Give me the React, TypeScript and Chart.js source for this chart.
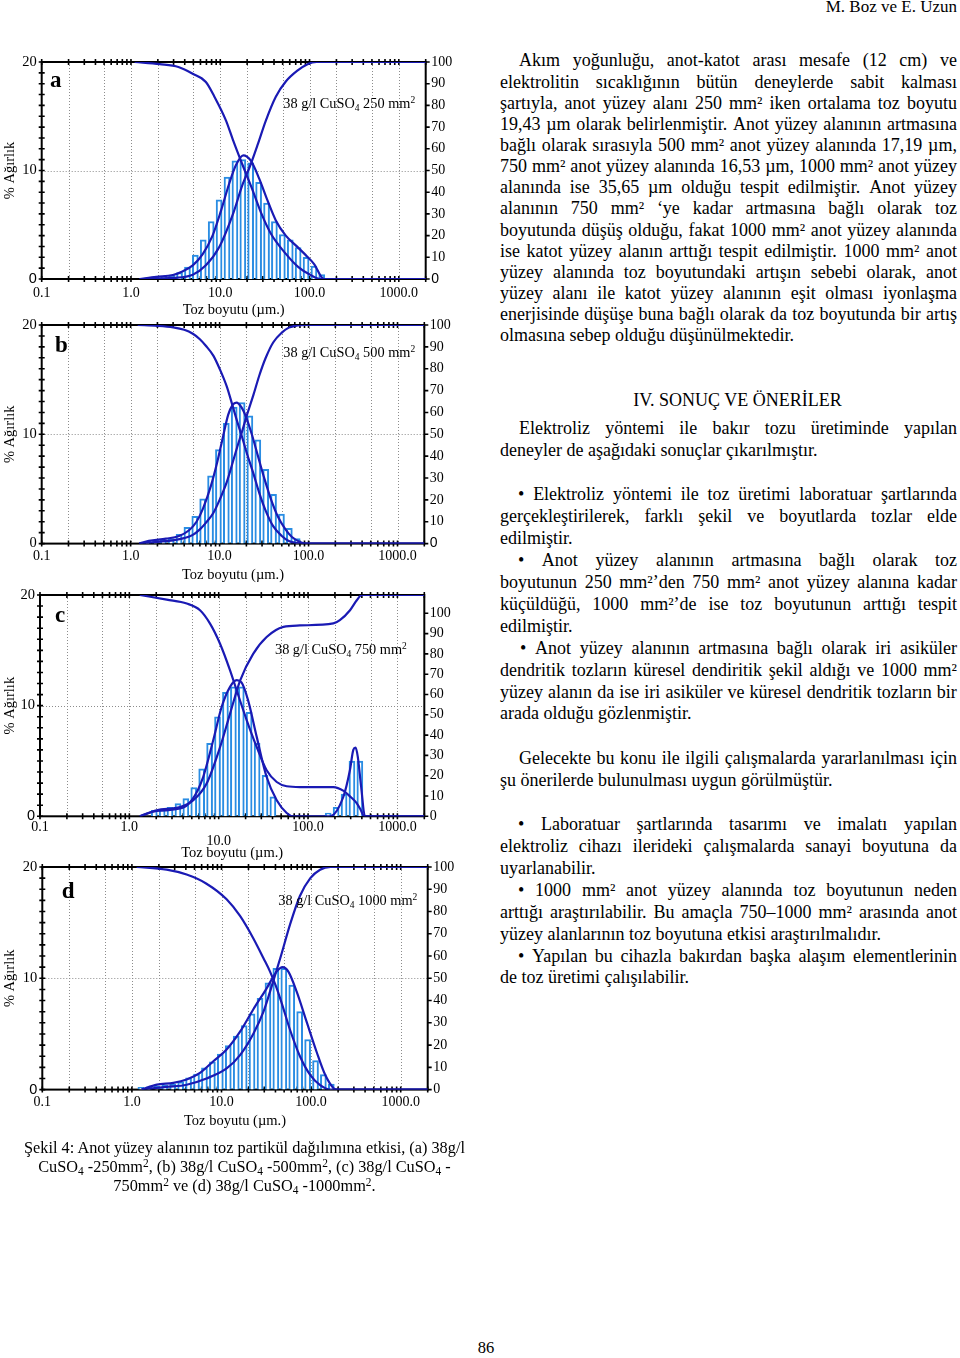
import React, { useEffect, useRef } from 'react';
import { Chart, registerables } from 'chart.js';
Chart.register(...registerables);

// ---------- DATA ----------
// particle size bin centres (µm)
const BINS = [1.26, 1.55, 1.9, 2.33, 2.85, 3.5, 4.29, 5.26, 6.45, 7.91, 9.7, 11.9, 14.6, 17.9, 21.9, 26.9, 33.0, 40.4, 49.6, 60.8, 74.5, 91.4, 112, 137, 168, 206, 253, 310, 380, 466];

// % weight per bin
const A_PCT = [0, 0.1, 0.2, 0.25, 0.35, 0.6, 1.1, 2.2, 3.6, 5.3, 7.3, 9.4, 10.9, 11.0, 10.7, 8.9, 7.0, 5.3, 4.1, 3.6, 2.9, 2.0, 1.2, 0.4, 0, 0, 0, 0, 0, 0];
const B_PCT = [0, 0.2, 0.3, 0.35, 0.45, 0.85, 1.5, 2.5, 4.1, 6.2, 8.6, 11.0, 12.5, 12.9, 11.7, 9.5, 6.8, 4.5, 2.7, 1.4, 0.46, 0, 0, 0, 0, 0, 0, 0, 0, 0];
const C_PCT = [0, 0, 0.55, 0.6, 0.8, 1.15, 1.6, 2.6, 4.3, 6.6, 9.0, 11.2, 11.7, 11.7, 9.4, 6.6, 3.7, 1.75, 0, 0, 0, 0, 0, 0, 0.3, 0.8, 2.0, 5.0, 5.0, 0];
const D_PCT = [0.2, 0.24, 0.3, 0.4, 0.5, 0.7, 1.05, 1.4, 1.95, 2.5, 3.2, 3.95, 4.8, 5.75, 6.8, 8.2, 9.6, 10.9, 10.9, 9.4, 7.0, 4.5, 2.6, 1.35, 0.5, 0, 0, 0, 0, 0];

// frequency curves [µm, %]
const A_FREQ = [[1.25, 0], [1.92, 0.2], [2.95, 0.37], [3.65, 0.65], [4.92, 1.26], [6.36, 2.3], [8.2, 4.0], [10.2, 6.3], [12.6, 8.8], [15.0, 10.5], [18.1, 11.4], [22.0, 10.9], [27.3, 9.25], [33.8, 7.25], [41.9, 5.4], [54.2, 4.0], [70.1, 3.1], [90.7, 2.2], [112, 1.4], [145, 0], [2000, 0]];
const B_FREQ = [[1.25, 0], [1.6, 0.25], [2.5, 0.45], [3.5, 0.7], [4.5, 1.2], [5.5, 2.0], [6.5, 3.2], [8, 5.3], [9.5, 7.6], [11, 9.9], [12.5, 11.8], [14, 12.7], [15.5, 12.9], [17.5, 12.5], [20, 11.5], [23, 10.0], [27, 8.0], [32, 5.9], [38, 4.0], [45, 2.5], [55, 1.3], [65, 0.6], [80, 0.15], [95, 0], [2000, 0]];
const C_FREQ = [[1.31, 0], [2.02, 0.48], [3.7, 0.7], [5.0, 1.45], [6.7, 3.55], [8.7, 6.9], [10.8, 9.9], [13.4, 11.7], [15.9, 12.3], [18, 12.1], [21.3, 10.5], [26.6, 7.2], [34.4, 3.55], [44.6, 1.45], [57.7, 0.3], [68.5, 0], [175, 0], [248, 1.75], [294, 4.16], [321, 6.0], [340, 6.2], [360, 5.4], [393, 2.65], [433, 0], [2000, 0]];
const D_FREQ = [[1.28, 0], [1.9, 0.45], [2.9, 0.6], [4.08, 0.9], [5.75, 1.5], [8.1, 2.55], [11.4, 3.6], [16.1, 5.2], [22.6, 7.2], [31.9, 9.1], [41.2, 10.6], [48.1, 11.0], [55.7, 10.6], [69, 8.8], [89, 6.1], [115, 3.4], [143, 1.35], [177, 0.15], [193, 0], [2000, 0]];

// cumulative undersize (right axis, %)
const A_UNDER = [[1.25, 0], [2.95, 0.5], [4.92, 2], [6.9, 6.3], [9.75, 14.7], [13.9, 30], [17.6, 43], [22, 53], [26.3, 62], [32.4, 73], [41.9, 84], [54.2, 91], [73, 96], [95, 99], [120, 100], [2000, 100]];
const B_UNDER = [[1.25, 0], [2, 0.8], [3, 1.5], [4, 2.5], [5, 4], [6, 6.5], [7, 9.5], [8.5, 14], [10, 20], [12, 28], [14, 37], [16, 45], [17.5, 50], [20, 58], [24, 68], [28, 77], [33, 85], [40, 92], [50, 96.5], [60, 98.8], [75, 99.8], [90, 100], [2000, 100]];
const C_UNDER = [[1.31, 0], [2.02, 3.0], [3.7, 4.6], [5.2, 7.9], [7.3, 16], [10.35, 34], [13.4, 50.6], [17.4, 67], [24.3, 80], [34.4, 88.3], [53, 93.3], [81, 94], [192, 95], [227, 96.6], [295, 101.5], [351, 106.4], [400, 109], [2000, 109]];
const D_UNDER = [[1.28, 0], [2.44, 1.2], [4.08, 2.2], [6.8, 5.0], [11.4, 9.5], [16.1, 15.5], [22.6, 25], [29.4, 35], [34.8, 44], [40, 52], [46, 60], [58, 74], [75, 87], [98, 95], [126, 98.8], [165, 100], [2000, 100]];

// cumulative oversize (right axis, %)
const A_OVER = [[1.1, 100], [2.1, 99], [3.4, 97.7], [4.9, 94.6], [6.9, 90.8], [8.6, 84], [11.6, 73], [13.9, 64], [17.6, 53], [23, 41], [29, 30], [36.8, 21], [54, 11.7], [75, 5.5], [104, 1.7], [132, 0], [2000, 0]];
const B_OVER = [[1.2, 100], [2, 99.6], [3, 98.9], [4, 97.8], [5, 96], [6, 93.5], [7, 90.5], [8.5, 86], [10, 80], [12, 72], [14, 63], [16, 55], [17.5, 50], [20, 42], [24, 32], [28, 23], [33, 15], [40, 8], [50, 3.5], [60, 1.2], [75, 0.2], [90, 0], [2000, 0]];
const C_OVER = [[1.31, 109], [2.62, 106.7], [4.39, 104.8], [6.18, 101.5], [8.0, 94.9], [10.35, 85], [13.4, 71.9], [15.9, 62], [20.6, 47.3], [26.6, 34.2], [34.4, 22.7], [44.6, 16.9], [57.7, 14.8], [81.3, 14.4], [192, 14.4], [250, 12.5], [300, 9.5], [350, 6.5], [390, 3], [425, 0], [2000, 0]];
const D_OVER = [[1.13, 100], [2.44, 98.8], [4.08, 96.6], [6.8, 92.5], [11.4, 85.5], [16.1, 78], [22.6, 68], [29.4, 59], [34.8, 53], [40, 47], [46, 40], [58, 27], [75, 15], [98, 6.5], [126, 2], [165, 0], [2000, 0]];

// axis ticks
const X_LABEL_TICKS = [0.1, 1, 10, 100, 1000];
const X_GRID = [0.2, 0.5, 1, 2, 5, 10, 20, 50, 100, 200, 500, 1000];
const X_MULT = [1, 2, 3, 4, 5, 6, 7, 8, 9];
const LEFT_TICKS = [0, 10, 20];
const RIGHT_TICKS = [0, 10, 20, 30, 40, 50, 60, 70, 80, 90, 100];

// ---------- STYLE / LAYOUT ----------
const CURVE = '#1a1ab4';
const BAR = '#2a8de3';
const GRID = '#8c8c8c';
const SERIF = '"Liberation Serif", "Times New Roman", serif';
const SANS = '"Liberation Sans", Arial, sans-serif';
const CW = 470;

const PANELS = [
  { id: 'a', pct: A_PCT, freq: A_FREQ, under: A_UNDER, over: A_OVER, area: '250', rightMax: 100,
    plot: { left: 41.7, right: 425.7, top: 61.7, bottom: 278.7 }, tickPad: 7.3, titleY: 310,
    letter: { x: 50, y: 86.7 }, note: { x: 283.3, y: 107.3 }, sansL: true, sansR: true, drop10: false },
  { id: 'b', pct: B_PCT, freq: B_FREQ, under: B_UNDER, over: B_OVER, area: '500', rightMax: 100,
    plot: { left: 41.7, right: 424.3, top: 325, bottom: 543.3 }, tickPad: 5.7, titleY: 575,
    letter: { x: 55, y: 351.7 }, note: { x: 283.3, y: 357.3 }, sansL: false, sansR: true, drop10: false },
  { id: 'c', pct: C_PCT, freq: C_FREQ, under: C_UNDER, over: C_OVER, area: '750', rightMax: 109,
    plot: { left: 40, right: 424.3, top: 594.7, bottom: 816 }, tickPad: 4, titleY: 853,
    letter: { x: 55, y: 621.7 }, note: { x: 275, y: 654 }, sansL: true, sansR: false, drop10: true },
  { id: 'd', pct: D_PCT, freq: D_FREQ, under: D_UNDER, over: D_OVER, area: '1000', rightMax: 100,
    plot: { left: 42.3, right: 427.7, top: 867.3, bottom: 1090 }, tickPad: 6, titleY: 1121.7,
    letter: { x: 61.7, y: 898.3 }, note: { x: 278.3, y: 905.7 }, sansL: true, sansR: false, drop10: false },
];

function geom(p: any) {
  const top = p.plot.top - 16;
  const h = p.titleY + 8.7 - top;
  return { top, h };
}

function buildChart(canvas: HTMLCanvasElement, p: any) {
  const { top: cTop, h: H } = geom(p);
  const minor: number[] = [];
  X_LABEL_TICKS.forEach((d) => X_MULT.forEach((m) => { if (d * m <= 2000) minor.push(d * m); }));
  minor.push(2000);

  const pts = (arr: number[][]) => arr.map(([x, y]) => ({ x, y }));
  const line = (data: number[][], axis: string) => ({
    type: 'line', data: pts(data), yAxisID: axis, borderColor: CURVE, borderWidth: 2.2,
    pointRadius: 0, fill: false, cubicInterpolationMode: 'monotone', order: 1,
  });

  const decor = {
    id: 'decor',
    beforeDatasetsDraw(chart: any) {
      const { ctx, chartArea: a, scales } = chart;
      const x = scales.x, y = scales.y, y2 = scales.y2;
      ctx.save();
      ctx.strokeStyle = GRID; ctx.lineWidth = 1; ctx.setLineDash([1, 2]);
      ctx.beginPath();
      X_GRID.forEach((v) => { const px = Math.round(x.getPixelForValue(v)) + 0.5; ctx.moveTo(px, a.top); ctx.lineTo(px, a.bottom); });
      const gy = Math.round(y.getPixelForValue(10)) + 0.5;
      ctx.moveTo(a.left, gy); ctx.lineTo(a.right, gy);
      ctx.stroke();
      ctx.setLineDash([]);
      ctx.strokeStyle = '#000'; ctx.lineWidth = 1.6;
      ctx.beginPath();
      minor.forEach((v) => {
        const px = x.getPixelForValue(v);
        ctx.moveTo(px, a.top - 3); ctx.lineTo(px, a.top + 3);
        ctx.moveTo(px, a.bottom - 3); ctx.lineTo(px, a.bottom + 3);
      });
      for (let v = 0; v <= 20; v++) { const py = y.getPixelForValue(v); ctx.moveTo(a.left - 3, py); ctx.lineTo(a.left + 3, py); }
      RIGHT_TICKS.forEach((v) => { const py = y2.getPixelForValue(v); ctx.moveTo(a.right, py); ctx.lineTo(a.right + 4, py); });
      ctx.stroke();
      ctx.lineWidth = 2;
      ctx.strokeRect(a.left, a.top, a.right - a.left, a.bottom - a.top);
      ctx.restore();
    },
    afterDatasetsDraw(chart: any) {
      const { ctx } = chart;
      ctx.save();
      ctx.fillStyle = '#000';
      ctx.textAlign = 'left';
      ctx.textBaseline = 'alphabetic';
      ctx.font = 'bold 23px ' + SERIF;
      ctx.fillText(p.id, p.letter.x, p.letter.y - cTop);
      const parts: [string, string, number][] = [
        ['38 g/l CuSO', '14.3px ' + SERIF, 0],
        ['4', '9.5px ' + SERIF, 3],
        [' ' + p.area + ' mm', '14.3px ' + SERIF, 0],
        ['2', '9.5px ' + SERIF, -5],
      ];
      let cx = p.note.x;
      const by = p.note.y - cTop;
      parts.forEach(([t, f, dy]) => { ctx.font = f; ctx.fillText(t, cx, by + dy); cx += ctx.measureText(t).width; });
      ctx.restore();
    },
  };

  return new Chart(canvas, {
    type: 'bar',
    data: {
      datasets: [
        line(p.freq, 'y'),
        line(p.under, 'y2'),
        line(p.over, 'y2'),
        {
          type: 'bar',
          data: BINS.map((x, i) => ({ x, y: p.pct[i] > 0 ? p.pct[i] : null })),
          yAxisID: 'y', backgroundColor: '#ffffff', borderColor: BAR, borderWidth: 2,
          barThickness: 6, order: 2,
        },
      ] as any,
    },
    options: {
      animation: false,
      responsive: false,
      maintainAspectRatio: false,
      devicePixelRatio: 1,
      layout: { padding: { top: 16, left: 0, right: 0, bottom: 0 } },
      plugins: { legend: { display: false }, tooltip: { enabled: false } },
      scales: {
        x: {
          type: 'logarithmic', position: 'bottom', min: 0.1, max: 2000, offset: false,
          grid: { display: false, drawTicks: false, offset: false }, border: { display: false },
          afterBuildTicks: (s: any) => { s.ticks = X_LABEL_TICKS.map((v) => ({ value: v })); },
          afterFit: (s: any) => { s.height = H - (p.plot.bottom - cTop); },
          ticks: {
            autoSkip: false, maxRotation: 0, minRotation: 0, padding: p.tickPad, color: '#000',
            font: { family: SERIF, size: 14, lineHeight: 1 },
            callback: (v: any) => {
              const s = Number(v).toFixed(1);
              return p.drop10 && Number(v) === 10 ? ['', s] : s;
            },
          },
          title: { display: true, text: 'Toz boyutu (µm.)', color: '#000', font: { family: SERIF, size: 14.5, lineHeight: 1.2 }, padding: { top: 0, bottom: 0 } },
        },
        y: {
          type: 'linear', position: 'left', min: 0, max: 20,
          grid: { display: false, drawTicks: false }, border: { display: false },
          afterBuildTicks: (s: any) => { s.ticks = LEFT_TICKS.map((v) => ({ value: v })); },
          afterFit: (s: any) => { s.width = p.plot.left; },
          ticks: {
            padding: 5, color: '#000',
            font: (c: any) => ({ family: c.tick && c.tick.value === 0 && p.sansL ? SANS : SERIF, size: 14.5, lineHeight: 1 }),
          },
          title: { display: true, text: '% Ağırlık', color: '#000', font: { family: SERIF, size: 14.5, lineHeight: 1.2 }, padding: { top: 1.5, bottom: 0 } },
        },
        y2: {
          type: 'linear', position: 'right', min: 0, max: p.rightMax,
          grid: { display: false, drawTicks: false }, border: { display: false },
          afterBuildTicks: (s: any) => { s.ticks = RIGHT_TICKS.map((v) => ({ value: v })); },
          afterFit: (s: any) => { s.width = CW - p.plot.right; },
          ticks: {
            padding: 5.5, color: '#000',
            font: (c: any) => ({ family: c.tick && c.tick.value === 0 && p.sansR ? SANS : SERIF, size: 14, lineHeight: 1 }),
          },
        },
      },
    } as any,
    plugins: [decor],
  });
}

function Panel({ p }: any) {
  const ref = useRef<HTMLCanvasElement>(null);
  const { top, h } = geom(p);
  useEffect(() => {
    const chart = buildChart(ref.current as HTMLCanvasElement, p);
    return () => chart.destroy();
  }, []);
  return (
    <canvas ref={ref} width={CW} height={Math.round(h)}
      style={{ position: 'absolute', left: 0, top, width: CW, height: Math.round(h) }} />
  );
}

// ---------- TEXT ----------
const P1_LINES: [string, number, boolean][] = [
  ['Akım yoğunluğu, anot-katot arası mesafe (12 cm) ve', 19, true],
  ['elektrolitin sıcaklığının bütün deneylerde sabit kalması', 0, true],
  ['şartıyla, anot yüzey alanı 250 mm² iken ortalama toz boyutu', 0, true],
  ['19,43 µm olarak belirlenmiştir. Anot yüzey alanının artmasına', 0, true],
  ['bağlı olarak sırasıyla 500 mm² anot yüzey alanında 17,19 µm,', 0, true],
  ['750 mm² anot yüzey alanında 16,53 µm, 1000 mm² anot yüzey', 0, true],
  ['alanında ise 35,65 µm olduğu tespit edilmiştir. Anot yüzey', 0, true],
  ['alanının 750 mm² ‘ye kadar artmasına bağlı olarak toz', 0, true],
  ['boyutunda düşüş olduğu, fakat 1000 mm² anot yüzey alanında', 0, true],
  ['ise katot yüzey alanın arttığı tespit edilmiştir. 1000 mm² anot', 0, true],
  ['yüzey alanında toz boyutundaki artışın sebebi olarak, anot', 0, true],
  ['yüzey alanı ile katot yüzey alanının eşit olması iyonlaşma', 0, true],
  ['enerjisinde düşüşe buna bağlı olarak da toz boyutunda bir artış', 0, true],
  ['olmasına sebep olduğu düşünülmektedir.', 0, false],
];
const P2_LINES: [string, number, boolean][] = [
  ['Elektroliz yöntemi ile bakır tozu üretiminde yapılan', 19, true],
  ['deneyler de aşağıdaki sonuçlar çıkarılmıştır.', 0, false],
];
const B1_LINES: [string, number, boolean][] = [
  ['• Elektroliz yöntemi ile toz üretimi laboratuar şartlarında', 18, true],
  ['gerçekleştirilerek, farklı şekil ve boyutlarda tozlar elde', 0, true],
  ['edilmiştir.', 0, false],
  ['• Anot yüzey alanının artmasına bağlı olarak toz', 18, true],
  ['boyutunun 250 mm²’den 750 mm² anot yüzey alanına kadar', 0, true],
  ['küçüldüğü, 1000 mm²’de ise toz boyutunun arttığı tespit', 0, true],
  ['edilmiştir.', 0, false],
  ['• Anot yüzey alanının artmasına bağlı olarak iri asiküler', 20, true],
  ['dendritik tozların küresel dendiritik şekil aldığı ve 1000 mm²', 0, true],
  ['yüzey alanın da ise iri asiküler ve küresel dendritik tozların bir', 0, true],
  ['arada olduğu gözlenmiştir.', 0, false],
];
const P3_LINES: [string, number, boolean][] = [
  ['Gelecekte bu konu ile ilgili çalışmalarda yararlanılması için', 19, true],
  ['şu önerilerde bulunulması uygun görülmüştür.', 0, false],
];
const B2_LINES: [string, number, boolean][] = [
  ['• Laboratuar şartlarında tasarımı ve imalatı yapılan', 18, true],
  ['elektroliz cihazı ilerideki çalışmalarda sanayi boyutuna da', 0, true],
  ['uyarlanabilir.', 0, false],
  ['• 1000 mm² anot yüzey alanında toz boyutunun neden', 18, true],
  ['arttığı araştırılabilir. Bu amaçla 750–1000 mm² arasında anot', 0, true],
  ['yüzey alanlarının toz boyutuna etkisi araştırılmalıdır.', 0, false],
  ['• Yapılan bu cihazla bakırdan başka alaşım elementlerinin', 18, true],
  ['de toz üretimi çalışılabilir.', 0, false],
];

const COL_L = 500;
const COL_W = 457;

function Block({ lines, firstY, lh }: any) {
  return (
    <>
      {lines.map(([t, ind, just]: [string, number, boolean], i: number) => {
        const top = firstY + i * lh - 11.6;
        const style: any = {
          position: 'absolute', left: COL_L + ind, width: COL_W - ind, top,
          fontSize: 18, lineHeight: '22px', whiteSpace: 'nowrap',
        };
        if (just) {
          return (
            <div key={i} style={{ ...style, display: 'flex', justifyContent: 'space-between' }}>
              {t.split(' ').filter(Boolean).map((w, k) => <span key={k}>{w}</span>)}
            </div>
          );
        }
        return <div key={i} style={style}>{t}</div>;
      })}
    </>
  );
}

const Sub = ({ c }: any) => <sub style={{ fontSize: '0.7em', verticalAlign: '-0.25em', lineHeight: 0 }}>{c}</sub>;
const Sup = ({ c }: any) => <sup style={{ fontSize: '0.7em', verticalAlign: '0.45em', lineHeight: 0 }}>{c}</sup>;

export default function App() {
  return (
    <div style={{ position: 'absolute', left: 0, top: 0, width: 960, height: 1358, background: '#fff', color: '#000', fontFamily: SERIF, overflow: 'hidden' }}>
      <div style={{ position: 'absolute', right: 3, top: -2.8, fontSize: 17, lineHeight: '20px', whiteSpace: 'nowrap' }}>M. Boz ve E. Uzun</div>

      {PANELS.map((p) => <Panel key={p.id} p={p} />)}

      <div style={{ position: 'absolute', left: 4.5, width: 480, top: 1148 - 10.3, fontSize: 16.3, lineHeight: '19px', textAlign: 'center', whiteSpace: 'nowrap' }}>
        <div>Şekil 4: Anot yüzey alanının toz partikül dağılımına etkisi, (a) 38g/l</div>
        <div>CuSO<Sub c="4" /> -250mm<Sup c="2" />, (b) 38g/l CuSO<Sub c="4" /> -500mm<Sup c="2" />, (c) 38g/l CuSO<Sub c="4" /> -</div>
        <div>750mm<Sup c="2" /> ve (d) 38g/l CuSO<Sub c="4" /> -1000mm<Sup c="2" />.</div>
      </div>

      <Block lines={P1_LINES} firstY={61} lh={21.15} />
      <div style={{ position: 'absolute', left: 537.5, width: 400, top: 401 - 11.6, fontSize: 18, lineHeight: '22px', textAlign: 'center', whiteSpace: 'nowrap' }}>IV. SONUÇ VE ÖNERİLER</div>
      <Block lines={P2_LINES} firstY={429} lh={22} />
      <Block lines={B1_LINES} firstY={495} lh={21.9} />
      <Block lines={P3_LINES} firstY={759} lh={22} />
      <Block lines={B2_LINES} firstY={825} lh={21.86} />

      <div style={{ position: 'absolute', left: 436, width: 100, top: 1349 - 10.6, fontSize: 16.5, lineHeight: '20px', textAlign: 'center' }}>86</div>
    </div>
  );
}
